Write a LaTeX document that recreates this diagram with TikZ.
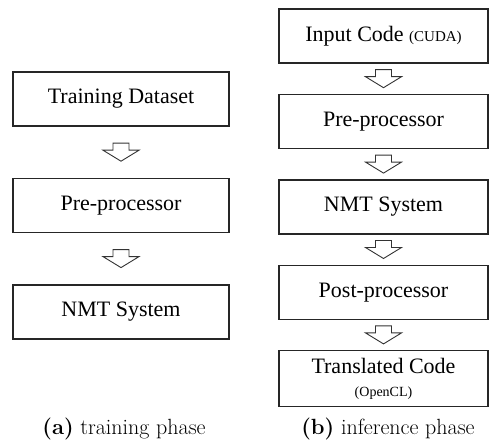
\documentclass[tikz,border=0pt]{standalone}
\usepackage{fontspec}
\newfontfamily\boxfont{Liberation Serif}
\usetikzlibrary{positioning,calc}

\begin{document}
\begin{tikzpicture}[x=1pt, y=1pt,
    phasebox/.style={draw=black!85, line width=1.4pt, rectangle, inner sep=0pt, align=center,
        font=\boxfont\fontsize{22}{26}\selectfont},
    hollowarrow/.style={draw=black!80, line width=0.9pt, fill=white, line join=miter}]
    \useasboundingbox (0,0) rectangle (489,445);

    % (a) training phase
    \node [phasebox, minimum width=216pt, minimum height=54pt] (train) at (121,346) {Training Dataset};
    \node [phasebox, below=51pt of train, minimum width=216pt, minimum height=54pt] (lpre) {Pre-processor};
    \node [phasebox, below=51pt of lpre, minimum width=216pt, minimum height=54pt] (lnmt) {NMT System};

    % (b) inference phase
    \node [phasebox, minimum width=209pt, minimum height=54pt] (input) at (383.5,409)
        {Input Code {\fontsize{15}{17}\selectfont(CUDA)}};
    \node [phasebox, below=30pt of input, minimum width=209pt, minimum height=54pt] (rpre) {Pre-processor};
    \node [phasebox, below=30pt of rpre, minimum width=209pt, minimum height=54pt] (rnmt) {NMT System};
    \node [phasebox, below=30pt of rnmt, minimum width=209pt, minimum height=54pt] (post) {Post-processor};
    \node [phasebox, below=30pt of post, minimum width=209pt, minimum height=56pt] (trans)
        {Translated Code\\[-3pt]{\fontsize{14}{16}\selectfont(OpenCL)}};

    \foreach \a/\b in {train/lpre, lpre/lnmt, input/rpre, rpre/rnmt, rnmt/post, post/trans}
        \draw [hollowarrow] ($(\a.south)!0.5!(\b.north)$) ++(-8,9) -- ++(16,0) -- ++(0,-7)
            -- ++(10,0) -- ++(-18,-11) -- ++(-18,11) -- ++(10,0) -- cycle;

    \node [font=\fontsize{22}{26}\selectfont] (capa) at (124,16) {\textbf{(a)} training phase};
    \node [font=\fontsize{22}{26}\selectfont] (capb) at (388,16) {\textbf{(b)} inference phase};
\end{tikzpicture}
\end{document}
